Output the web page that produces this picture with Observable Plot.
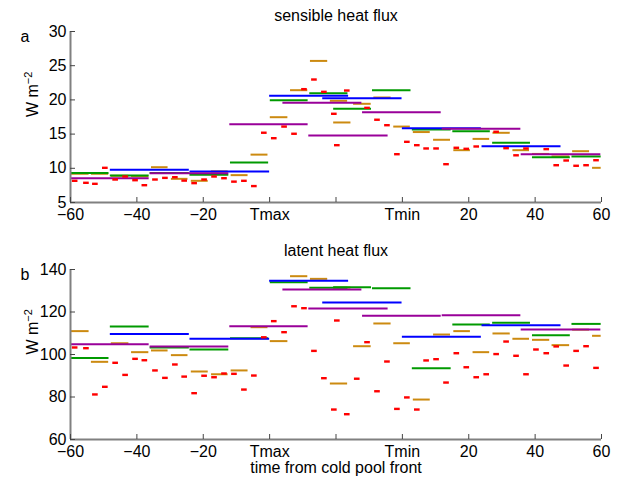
<!DOCTYPE html>
<html><head><meta charset="utf-8">
<script src="https://cdn.jsdelivr.net/npm/d3@7"></script>
<script src="https://cdn.jsdelivr.net/npm/@observablehq/plot@0.6"></script>
<style>
body{margin:0;background:#fff;}
#chart{width:621px;height:480px;}
#chart svg{display:block;}
</style></head><body><div id="chart"></div>
<script>
// ---- axis ticks ----
const xTicks = [-60, -40, -20, 0, 20, 40, 60, 80, 100];
const xTickLabels = ["−60", "−40", "−20", "Tmax", "", "Tmin", "20", "40", "60"];
const sensTicks = [5, 10, 15, 20, 25, 30];
const latTicks = [60, 80, 100, 120, 140];

// ---- purple (longest windows) ----
const purpleX1 = [-60, -36, -12, 4, 11.8, 28, 52, 75.8];
const purpleX2 = [-36.3, -12.3, 11.6, 27.8, 35.7, 51.7, 75.7, 99.8];
const purpleSens = [8.55, 9.29, 16.45, 19.58, 14.8, 18.2, 15.77, 12.06];
const purpleLat = [104.85, 103.8, 113.3, 130.6, 121.6, 118.2, 118.5, 111.8];

// ---- blue ----
const blueX1 = [-48, -24, 0, 16, 40, 64];
const blueX2 = [-24.2, 0, 23.8, 39.9, 63.8, 87.8];
const blueSens = [9.78, 9.53, 20.6, 20.25, 15.86, 13.23];
const blueLat = [109.6, 107.4, 134.7, 124.5, 108.3, 113.8];

// ---- green ----
const greenX1 = [-60, -48, -36, -24, -11.8, 0.2, 12.1, 19.3, 31, 43, 55.2, 67.2, 79.2, 91.1];
const greenX2 = [-48.4, -36.3, -24.2, -12.3, -0.3, 11.6, 23.6, 30.7, 42.6, 54.7, 66.5, 78.6, 90.6, 99.9];
const greenSens = [9.3, 8.95, 9.3, 9.05, 10.85, 19.96, 20.98, 18.7, 21.42, 15.67, 15.43, 13.73, 11.6, 11.73];
const greenLat = [98.3, 113.2, 103.3, 102.35, 107.7, 134.0, 131.4, 131.7, 131.2, 93.55, 114.1, 114.9, 109.1, 114.4];

// ---- orange ----
const orangeX1 = [-59.8, -53.7, -47.7, -41.6, -35.6, -29.6, -23.6, -17.5, -11.6, -5.6, 0.2, 6.3, 12.3, 18.3, 19.3, 25.3, 31.4, 37.4, 43.3, 49.4, 55.5, 61.3, 67.3, 73.3, 79.2, 85.1, 91.3, 97.3];
const orangeX2 = [-54.4, -48.5, -42.4, -36.4, -30.6, -24.6, -18.5, -12.5, -6.5, -0.5, 5.5, 11.5, 17.5, 23.5, 24.5, 30.6, 36.6, 42.4, 48.4, 54.5, 60.5, 66.3, 72.5, 78.3, 84.4, 90.4, 96.4, 99.9];
const orangeSens = [9.2, 9.2, 8.9, 8.85, 10.16, 8.46, 8.17, 9.55, 9.0, 12.0, 17.47, 21.42, 25.7, 19.87, 16.7, 19.43, 20.35, 16.1, 15.3, 14.17, 12.65, 14.3, 15.19, 12.65, 12.1, 11.73, 12.5, 10.07];
const orangeLat = [111, 96.55, 105.3, 101.1, 101.9, 99.7, 92, 90.7, 92.5, 112.85, 106.3, 136.85, 135.6, 86.35, 131.5, 103.9, 114.6, 105.3, 78.8, 109.4, 111, 101.1, 109.9, 107.4, 106.9, 104.4, 111.7, 108.8];

// ---- red (short bins) ----
const redX = [-58.6, -55.2, -52.5, -49.5, -46.4, -43.4, -40.4, -37.6, -34.4, -31.4, -28.4, -25.6, -22.6, -19.6, -16.6, -13.6, -10.6, -7.6, -4.6, -1.6, 1.4, 4.5, 7.5, 10.5, 13.5, 16.5, 19.5, 20.4, 23.4, 26.4, 29.5, 32.5, 35.5, 38.5, 41.5, 44.5, 47.3, 50.3, 53.3, 56.4, 59.4, 62.4, 65.4, 68.4, 71.4, 74.4, 77.4, 80.4, 83.5, 86.5, 89.5, 92.5, 95.5, 98.5];
const redSens = [8.17, 7.88, 7.73, 10.07, 8.36, 8.8, 8.26, 7.53, 8.36, 8.6, 8.7, 8.2, 7.83, 8.36, 8.8, 8.55, 8.05, 8.17, 7.4, 15.2, 14.4, 16.1, 15.05, 21.57, 22.98, 21.18, 17.97, 13.38, 21.37, null, 18.84, 17.1, 16.3, 12.06, 13.87, 13.38, 12.9, 12.9, 10.6, 13.0, 12.85, 13.19, null, 15.34, 12.94, 11.9, 12.9, null, 12.8, 10.45, 11.14, 10.37, 10.45, 11.18];
const redLat = [103.3, 102.97, 81.2, 84.8, 96.1, 90.4, 97.96, 97.3, 92.5, 89.0, 95.3, 89.6, 81.8, 90.0, 89.3, 91.06, 90.9, 83.5, 90.1, 108.1, 115.7, 110.5, 122.7, 121.8, 101.7, 88.85, 74.1, 116.0, 71.9, 88.6, 105.8, 82.7, 96.7, 74.4, 79.8, 74.1, 97.2, 97.8, 86.8, 100.6, 94.0, 89.3, 90.7, 100.2, 106.1, 99.4, 90.7, 102.35, 100.6, 103.8, 94.8, 101.7, 103.9, 93.7];

const COLORS = {green: "#009a00", blue: "#0000ff", purple: "#990099", orange: "#cc8a10", red: "#ff0000"};
const FONT = "'Liberation Sans', Arial, Helvetica, sans-serif";
const X_DOMAIN = [-60, 100];
const WIDTH = 621, ML = 70, MR = 20;

function segs(x1s, x2s, ys) {
  return ys.map((y, i) => ({x1: x1s[i], x2: x2s[i], y})).filter(d => d.y != null);
}
function redSegs(ys) {
  return ys.map((y, i) => ({x1: redX[i] - 0.85, x2: redX[i] + 0.85, y})).filter(d => d.y != null);
}

function panel({title, letter, yDomain, yTicks, height, marginTop, marginBottom, key, titleDy, xTitle}) {
  const plotH = height - marginTop - marginBottom;
  const plotW = WIDTH - ML - MR;
  const yTickLen = (X_DOMAIN[1] - X_DOMAIN[0]) * 5 / plotW;
  const xTickLen = (yDomain[1] - yDomain[0]) * 5 / plotH;
  const pick = (s, l) => key === "sens" ? s : l;
  const line = (data, color, w) => Plot.ruleY(data, {x1: "x1", x2: "x2", y: "y", stroke: color, strokeWidth: w});
  const txt = {fontSize: 16, fill: "#000", lineAnchor: "middle", text: d => d};
  const marks = [
    line(segs(orangeX1, orangeX2, pick(orangeSens, orangeLat)), COLORS.orange, 2),
    line(segs(greenX1, greenX2, pick(greenSens, greenLat)), COLORS.green, 2),
    line(segs(blueX1, blueX2, pick(blueSens, blueLat)), COLORS.blue, 2),
    line(segs(purpleX1, purpleX2, pick(purpleSens, purpleLat)), COLORS.purple, 2),
    line(redSegs(pick(redSens, redLat)), COLORS.red, 2.4),
    Plot.ruleX([X_DOMAIN[0]], {stroke: "#808080", strokeWidth: 2}),
    Plot.ruleY([yDomain[0]], {stroke: "#808080", strokeWidth: 2}),
    Plot.ruleX(xTicks, {x: d => d, y1: yDomain[0], y2: yDomain[0] + xTickLen, stroke: "#444", strokeWidth: 1}),
    Plot.ruleY(yTicks, {y: d => d, x1: X_DOMAIN[0], x2: X_DOMAIN[0] + yTickLen, stroke: "#444", strokeWidth: 1}),
    Plot.text([title], {...txt, frameAnchor: "top", dy: titleDy}),
    Plot.text([letter], {...txt, frameAnchor: "top-left", dx: -50, dy: 5}),
    Plot.text(["W m^-2"], {...txt, frameAnchor: "left", dx: -38, rotate: -90})
  ];
  if (xTitle) marks.push(Plot.text([xTitle], {...txt, frameAnchor: "bottom", dy: 28}));
  const svg = Plot.plot({
    width: WIDTH, height, marginLeft: ML, marginRight: MR, marginTop, marginBottom,
    style: {fontFamily: FONT, fontSize: "16px", color: "#000", background: "#fff", overflow: "visible"},
    x: {domain: X_DOMAIN, ticks: xTicks, tickFormat: d => xTickLabels[xTicks.indexOf(d)], tickSize: 0, tickPadding: 6, label: null},
    y: {domain: yDomain, ticks: yTicks, tickSize: 0, tickPadding: 4, label: null},
    marks
  });
  svg.querySelectorAll("text").forEach(t => {
    if (t.textContent === "W m^-2") {
      t.textContent = "W m";
      const ts = document.createElementNS("http://www.w3.org/2000/svg", "tspan");
      ts.setAttribute("dy", "-0.5em");
      ts.setAttribute("font-size", "11");
      ts.textContent = "−2";
      t.appendChild(ts);
    }
  });
  return svg;
}

const chart = document.getElementById("chart");
chart.appendChild(panel({title: "sensible heat flux", letter: "a", yDomain: [5, 30], yTicks: sensTicks,
  height: 228, marginTop: 31, marginBottom: 26, key: "sens", titleDy: -16}));
chart.appendChild(panel({title: "latent heat flux", letter: "b", yDomain: [60, 140], yTicks: latTicks,
  height: 252, marginTop: 41, marginBottom: 41, key: "lat", titleDy: -19, xTitle: "time from cold pool front"}));
</script></body></html>
